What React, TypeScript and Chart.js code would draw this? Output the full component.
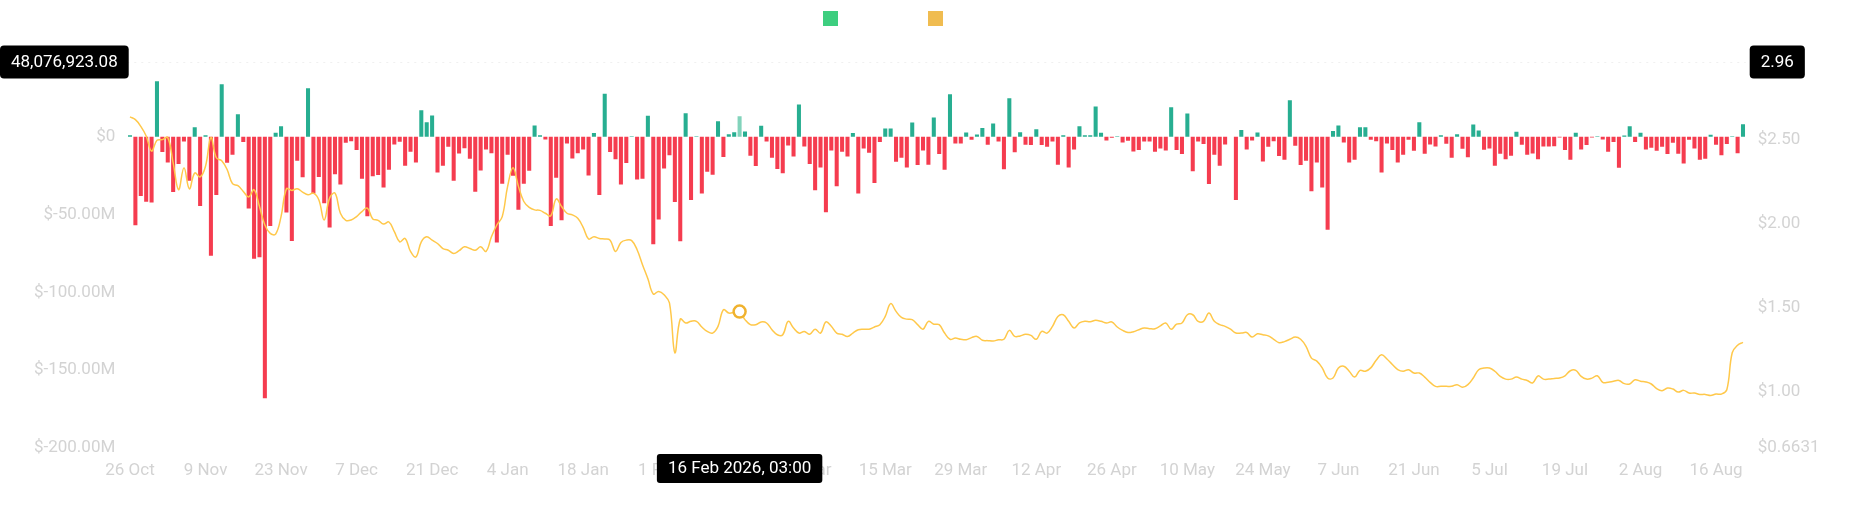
import React, { useEffect, useRef } from 'react';
import { Chart, registerables } from 'chart.js';

Chart.register(...registerables);

// ---------- data ----------
const START = { year: 2025, month: 9, day: 26 }; // 26 Oct 2025
const DAY_COUNT = 300;
const MONTHS = ['Jan', 'Feb', 'Mar', 'Apr', 'May', 'Jun', 'Jul', 'Aug', 'Sep', 'Oct', 'Nov', 'Dec'];

const xTickLabels = ['26 Oct', '9 Nov', '23 Nov', '7 Dec', '21 Dec', '4 Jan', '18 Jan', '1 Feb', '15 Feb', '1 Mar', '15 Mar', '29 Mar', '12 Apr', '26 Apr', '10 May', '24 May', '7 Jun', '21 Jun', '5 Jul', '19 Jul', '2 Aug', '16 Aug'];

// net flow, millions of USD, one bar per day
const netFlowM = [
  1, -56.8, -38, -41.7, -42.3, 35.7, -9.8, -16.5, -35.5, -17.5,
  -3, -28.2, 6.2, -44.4, 1, -76.5, -37.4, 33.8, -16.7, -11.5,
  14.5, -3.4, -46, -78.4, -77.4, -168, -57.3, 2.6, 6.8, -48.7,
  -67, -15.4, -26, 31.2, -36.5, -25.9, -42.7, -58.3, -24.1, -30.6,
  -3.8, -2.8, -8.5, -26.9, -51, -25.4, -24.6, -32.5, -21.2, -4.9,
  -3.2, -18.6, -9.6, -16.5, 17.1, 9.4, 13.7, -22.9, -18.6, -6.4,
  -28.2, -10.7, -7.3, -14.1, -35.3, -21.6, -8.1, -10.5, -67.9, -30.1,
  -11.5, -25, -46.8, -30.1, -21.8, 7.3, 1, -1.7, -57.3, -26.3,
  -53.6, -4.3, -13.9, -10.5, -8.1, -24.8, 2.4, -37.4, 27.6, -9.8,
  -14.5, -30.6, -16.9, 0.4, -27.4, -26.9, 13.5, -69, -53.2, -20.3,
  -11.8, -41.9, -67.1, 15.2, -40.6, 0.4, -36.5, -22.4, -24.4, 10,
  -13, 1.7, 3, 13.2, 3.4, -12.2, -18.8, 7.1, -3, -13.5,
  -20.7, -23.5, -5.6, -12.6, 20.7, -6.2, -17.5, -34.4, -19.7, -48.5,
  -8.8, -31.8, -9.6, -12.6, 2.4, -36.5, -7.5, -10.3, -29.7, -3.4,
  5.3, 5.3, -16, -13.5, -19.7, 9.2, -18.2, -8.8, -17.9, 12.4,
  -11.1, -21.2, 27.4, -4.3, -4.3, 2.8, -1.9, 1.5, 5.6, -5.1,
  8.5, -3, -20.9, 24.8, -10, 3, -5.1, -5.3, 4.9, -5.3,
  -6.4, -3, -17.9, 1, -19.7, -8.1, 6.8, 1, 1, 19.4,
  2.6, -2.4, -0.6, 0.4, -3.6, -2.6, -9.4, -8.5, -3, -3,
  -9.6, -7.5, -8.8, 19, -8.5, -11.1, 15, -22.2, -3, -4.7,
  -30.3, -11.5, -18.6, -4.9, 0, -40.6, 4.3, -8.1, -2.4, 2.8,
  -15.8, -6.4, -2.8, -12.4, -14.7, 23.5, -5.8, -18.2, -15.4, -35,
  -16.5, -32.5, -59.8, 3.8, 7.3, -3.6, -16.5, -14.7, 6.2, 6.2,
  -1.9, -2.8, -22.9, -4.3, -8.5, -16.5, -11.5, -1.9, -9, 9.4,
  -10.9, -4.9, -6.2, 1, -4.5, -13.5, 1.7, -7.7, -13.2, 7.9,
  4.1, -8.3, -7.5, -18.6, -10.9, -14.5, -12.2, 3.2, -5.1, -11.5,
  -10.7, -14.5, -6.2, -6.2, -6, -0.4, -8.5, -14.7, 2.6, -8.1,
  -5.3, -0.4, 0.4, -1.7, -9.6, -3.4, -19.9, 0.9, 6.8, -3.4,
  2.6, -8.1, -7.1, -9, -6.4, -11.1, -3.8, -10.9, -17.1, -1.9,
  -7.5, -14.7, -14.1, 1.3, -5.1, -11.8, -4.7, 0.4, -10.5, 8.1,
];

// price, USD
const price = [
  2.633, 2.617, 2.577, 2.52, 2.43, 2.494, 2.498, 2.51, 2.36, 2.2,
  2.33, 2.205, 2.3, 2.276, 2.34, 2.51, 2.39, 2.373, 2.32, 2.236,
  2.224, 2.19, 2.157, 2.2, 2.1, 1.99, 1.94, 1.936, 2.04, 2.205,
  2.196, 2.206, 2.186, 2.17, 2.18, 2.14, 2.02, 2.15, 2.18, 2.06,
  2.018, 2.02, 2.04, 2.07, 2.09, 2.026, 2.018, 1.996, 2.008, 1.95,
  1.89, 1.91, 1.833, 1.8, 1.89, 1.92, 1.9, 1.88, 1.85, 1.84,
  1.82, 1.837, 1.86, 1.85, 1.84, 1.86, 1.833, 1.92, 1.99, 2.04,
  2.22, 2.33, 2.22, 2.13, 2.095, 2.08, 2.077, 2.06, 2.045, 2.145,
  2.1, 2.06, 2.05, 2.03, 1.976, 1.907, 1.92, 1.91, 1.907, 1.9,
  1.833, 1.886, 1.9, 1.897, 1.843, 1.754, 1.67, 1.58, 1.595, 1.575,
  1.526, 1.23, 1.43, 1.407, 1.417, 1.417, 1.383, 1.357, 1.347, 1.387,
  1.486, 1.466, 1.47, 1.475, 1.427, 1.397, 1.397, 1.413, 1.407, 1.367,
  1.337, 1.337, 1.417, 1.377, 1.347, 1.357, 1.34, 1.37, 1.347, 1.413,
  1.387, 1.347, 1.34, 1.327, 1.347, 1.367, 1.37, 1.37, 1.383, 1.397,
  1.446, 1.522, 1.476, 1.44, 1.43, 1.427, 1.397, 1.37, 1.417, 1.4,
  1.397, 1.347, 1.31, 1.317, 1.31, 1.307, 1.32, 1.327, 1.304, 1.302,
  1.3, 1.307, 1.31, 1.363, 1.327, 1.33, 1.34, 1.333, 1.31, 1.357,
  1.347, 1.387, 1.446, 1.456, 1.417, 1.377, 1.407, 1.417, 1.415, 1.423,
  1.417, 1.407, 1.413, 1.383, 1.363, 1.35, 1.355, 1.367, 1.377, 1.373,
  1.373, 1.39, 1.407, 1.37, 1.4, 1.407, 1.456, 1.456, 1.417, 1.417,
  1.466, 1.417, 1.397, 1.387, 1.37, 1.347, 1.347, 1.35, 1.323, 1.343,
  1.337, 1.33, 1.31, 1.29, 1.296, 1.31, 1.323, 1.31, 1.268, 1.198,
  1.18, 1.14, 1.08, 1.08, 1.139, 1.149, 1.12, 1.085, 1.125, 1.12,
  1.14, 1.185, 1.218, 1.193, 1.16, 1.13, 1.12, 1.129, 1.109, 1.109,
  1.085, 1.054, 1.03, 1.03, 1.03, 1.03, 1.04, 1.024, 1.04, 1.08,
  1.129, 1.139, 1.139, 1.12, 1.089, 1.073, 1.073, 1.085, 1.073, 1.065,
  1.05, 1.092, 1.073, 1.073, 1.077, 1.08, 1.093, 1.123, 1.125, 1.089,
  1.073, 1.079, 1.093, 1.054, 1.054, 1.06, 1.065, 1.046, 1.044, 1.069,
  1.06, 1.056, 1.044, 1.016, 1.004, 1.02, 1.014, 0.996, 1.006, 0.99,
  0.99, 0.982, 0.982, 0.976, 0.984, 0.984, 1.01, 1.23, 1.275, 1.292,
];

const leftTicks = [-200, -150, -100, -50, 0];
const rightTicks = [0.6631, 1, 1.5, 2, 2.5];
const LEFT_MIN = -200;
const LEFT_MAX = 48.07692308;
const RIGHT_MIN = 0.6631;
const RIGHT_MAX = 2.96;
const leftMaxLabel = '48,076,923.08';
const rightMaxLabel = '2.96';
const HOVER_INDEX = 113;
const hoverLabel = '16 Feb 2026, 03:00';
const seriesNames = ['Net Flow', 'Price'];

// ---------- styles ----------
const FONT = 'Roboto, "Noto Sans", Arial, sans-serif';
const TICK_COLOR = '#d3d3d3';
const GREEN = '#27ae91';
const GREEN_HOVER = '#82d3bb';
const RED = '#f53c4f';
const LINE = '#ffc84a';
const RING = '#f0b22e';
const LEGEND_COLORS = ['#3dce7f', '#f0bc50'];

const categories = Array.from({ length: DAY_COUNT }, (_, i) => {
  const d = new Date(Date.UTC(START.year, START.month, START.day + i));
  return `${d.getUTCDate()} ${MONTHS[d.getUTCMonth()]}`;
});

function roundRect(ctx: CanvasRenderingContext2D, x: number, y: number, w: number, h: number, r: number) {
  ctx.beginPath();
  ctx.moveTo(x + r, y);
  ctx.lineTo(x + w - r, y);
  ctx.quadraticCurveTo(x + w, y, x + w, y + r);
  ctx.lineTo(x + w, y + h - r);
  ctx.quadraticCurveTo(x + w, y + h, x + w - r, y + h);
  ctx.lineTo(x + r, y + h);
  ctx.quadraticCurveTo(x, y + h, x, y + h - r);
  ctx.lineTo(x, y + r);
  ctx.quadraticCurveTo(x, y, x + r, y);
  ctx.closePath();
}

function labelBox(ctx: CanvasRenderingContext2D, text: string, x: number, cy: number) {
  ctx.save();
  ctx.font = `17px ${FONT}`;
  const w = ctx.measureText(text).width + 22;
  const h = 33;
  ctx.fillStyle = '#000';
  roundRect(ctx, x, cy - h / 2, w, h, 4);
  ctx.fill();
  ctx.fillStyle = '#fff';
  ctx.textAlign = 'center';
  ctx.textBaseline = 'middle';
  ctx.fillText(text, x + w / 2, cy + 1);
  ctx.restore();
}

const overlayPlugin = {
  id: 'overlay',
  beforeDatasetsDraw(chart: any) {
    const { ctx, chartArea } = chart;
    ctx.save();
    ctx.strokeStyle = '#f0f0f0';
    ctx.lineWidth = 1;
    ctx.setLineDash([2, 5]);
    ctx.beginPath();
    ctx.moveTo(chartArea.left, chartArea.top + 0.5);
    ctx.lineTo(chartArea.right, chartArea.top + 0.5);
    ctx.stroke();
    ctx.restore();
  },
  afterDraw(chart: any) {
    const { ctx, chartArea, width } = chart;
    // legend squares (labels are white on white)
    ctx.save();
    const lx = [width / 2 - 103, width / 2 + 2];
    lx.forEach((x, i) => {
      ctx.fillStyle = LEGEND_COLORS[i];
      ctx.fillRect(x, 11, 15, 15);
      ctx.font = `14px ${FONT}`;
      ctx.fillStyle = '#ffffff';
      ctx.textBaseline = 'middle';
      ctx.fillText(seriesNames[i], x + 22, 19);
    });
    ctx.restore();
    // axis max labels
    labelBox(ctx, leftMaxLabel, 0, chartArea.top);
    labelBox(ctx, rightMaxLabel, chartArea.right + 4, chartArea.top);
    // crosshair x label
    const hx = chart.scales.x.getPixelForValue(HOVER_INDEX);
    ctx.save();
    ctx.font = `17px ${FONT}`;
    const tw = ctx.measureText(hoverLabel).width + 22;
    ctx.fillStyle = '#000';
    roundRect(ctx, hx - tw / 2, chartArea.bottom + 6, tw, 29, 3);
    ctx.fill();
    ctx.fillStyle = '#fff';
    ctx.textAlign = 'center';
    ctx.textBaseline = 'middle';
    ctx.fillText(hoverLabel, hx, chartArea.bottom + 6 + 15);
    ctx.restore();
  },
};

export default function App() {
  const canvasRef = useRef<HTMLCanvasElement | null>(null);

  useEffect(() => {
    document.body.style.margin = '0';
    const canvas = canvasRef.current;
    if (!canvas) return;
    Chart.defaults.font.family = FONT;

    const chart = new Chart(canvas, {
      type: 'bar',
      data: {
        labels: categories,
        datasets: [
          {
            type: 'line',
            label: seriesNames[1],
            data: price,
            yAxisID: 'y1',
            borderColor: LINE,
            borderWidth: 1.5,
            tension: 0.4,
            fill: false,
            order: 0,
            pointRadius: price.map((_, i) => (i === HOVER_INDEX ? 6 : 0)),
            pointHoverRadius: 0,
            pointBorderWidth: 2.5,
            pointBorderColor: RING,
            pointBackgroundColor: '#ffffff',
          } as any,
          {
            type: 'bar',
            label: seriesNames[0],
            data: netFlowM,
            yAxisID: 'y',
            backgroundColor: netFlowM.map((v, i) => (i === HOVER_INDEX ? GREEN_HOVER : v >= 0 ? GREEN : RED)),
            borderWidth: 0,
            barPercentage: 0.75,
            categoryPercentage: 1,
            order: 1,
          } as any,
        ],
      },
      options: {
        responsive: false,
        animation: false,
        events: [],
        layout: { padding: { top: 62, left: 0, right: 0, bottom: 0 } },
        plugins: {
          legend: { display: false },
          tooltip: { enabled: false },
          title: { display: false },
        },
        scales: {
          x: {
            type: 'category',
            offset: true,
            grid: { display: false, drawTicks: false },
            border: { display: false },
            ticks: {
              autoSkip: false,
              maxRotation: 0,
              minRotation: 0,
              padding: 13,
              color: TICK_COLOR,
              font: { size: 17, family: FONT },
              callback: (value: any, index: number) => (index % 14 === 0 ? xTickLabels[index / 14] : ''),
            },
            afterFit: (s: any) => {
              s.height = 77;
            },
          },
          y: {
            type: 'linear',
            position: 'left',
            min: LEFT_MIN,
            max: LEFT_MAX,
            grid: { display: false, drawTicks: false },
            border: { display: false },
            afterBuildTicks: (s: any) => {
              s.ticks = leftTicks.map((v) => ({ value: v }));
            },
            ticks: {
              padding: 12,
              color: TICK_COLOR,
              font: { size: 17, family: FONT },
              callback: (v: any) => (v === 0 ? '$0' : `$${Number(v).toFixed(2)}M`),
            },
            afterFit: (s: any) => {
              s.width = 127.3;
            },
          },
          y1: {
            type: 'linear',
            position: 'right',
            min: RIGHT_MIN,
            max: RIGHT_MAX,
            grid: { display: false, drawTicks: false },
            border: { display: false },
            afterBuildTicks: (s: any) => {
              s.ticks = rightTicks.map((v) => ({ value: v }));
            },
            ticks: {
              padding: 12,
              color: TICK_COLOR,
              font: { size: 17, family: FONT },
              callback: (v: any) => (v === RIGHT_MIN ? `$${RIGHT_MIN}` : `$${Number(v).toFixed(2)}`),
            },
            afterFit: (s: any) => {
              s.width = 106.3;
            },
          },
        },
      },
      plugins: [overlayPlugin],
    });

    return () => {
      chart.destroy();
    };
  }, []);

  return (
    <div style={{ width: 1852, height: 525 }}>
      <canvas ref={canvasRef} width={1852} height={525} style={{ display: 'block' }} />
    </div>
  );
}
